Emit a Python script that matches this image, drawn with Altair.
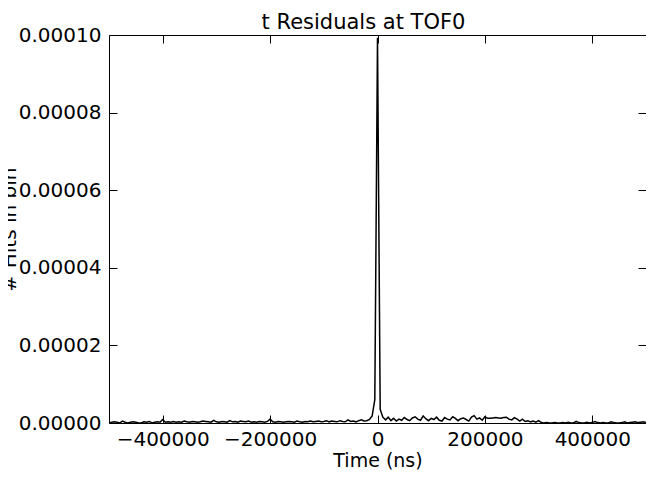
import altair as alt
import pandas as pd

# Histogram binning (bin centres every 5000 ns starting at -500000 ns)
bin_width = 5000
first_center = -500000

# Normalised hits per bin, in units of 1e-6
counts_e6 = [
    # -500000 .. -455000
    0, 0.2, 0.3, 0.2, 0, 0.5, 0.2, 0, 0.2, 0.3,
    # -450000 .. -405000
    0.2, 0, 0, 0.3, 0.2, 0.4, 0, 0.2, 0.3, 0.2,
    # -400000 .. -355000
    0.9, 0.2, 0.3, 0.2, 0.4, 0.2, 0.3, 0.2, 0.5, 0.3,
    # -350000 .. -305000
    0.2, 0.4, 0.3, 0.2, 0.3, 0.5, 0.4, 0.3, 0.2, 0.7,
    # -300000 .. -255000
    0.3, 0.2, 0.4, 0.3, 0.2, 0.6, 0.3, 0.4, 0.2, 0.5,
    # -250000 .. -205000
    0.4, 0.3, 0.5, 0.2, 0.3, 0.2, 0.4, 0.3, 0.2, 0.4,
    # -200000 .. -155000
    1.0, 0.3, 0.2, 0.4, 0.3, 0.2, 0.3, 0.4, 0.3, 0.2,
    # -150000 .. -105000
    0.5, 0.3, 0.2, 0.4, 0.3, 0.5, 0.3, 0.4, 0.5, 0.3,
    # -100000 .. -55000
    0.4, 0.6, 0.3, 0.5, 0.4, 0.3, 0.6, 0.4, 0.3, 0.8,
    # -50000 .. -25000
    0.4, 0.5, 0.3, 0.6, 0.8, 0.5,
    # -20000 .. -5000
    0.6, 0.9, 1.8, 6.0,
    # 0
    99.3,
    # 5000, 10000
    3.5, 1.5,
    # 15000 .. 60000
    0.8, 1.5, 0.6, 1.2, 0.5, 1.0, 0.7, 1.4, 0.9, 0.6,
    # 65000 .. 110000
    1.3, 1.6, 1.0, 0.7, 1.8, 1.1, 0.6, 1.2, 0.9, 1.5,
    # 115000 .. 160000
    0.7, 0.5, 1.4, 1.0, 0.8, 1.6, 1.2, 0.6, 1.1, 1.3,
    # 165000 .. 210000
    0.9, 0.5, 1.5, 1.9, 1.0, 1.3, 0.7, 1.6, 1.2, 1.2,
    # 215000 .. 260000
    1.3, 1.4, 1.3, 1.2, 1.4, 1.5, 1.0, 0.8, 1.4, 1.0,
    # 265000 .. 290000
    0.5, 1.0, 0.4, 0.6, 0.3, 0.5,
    # 295000 .. 340000
    0.2, 0.6, 0.1, 0, 0.1, 0, 0, 0.1, 0, 0,
    # 345000 .. 390000
    0.1, 0, 0.2, 0, 0, 0.4, 0.1, 0, 0, 0.2,
    # 395000 .. 440000
    0, 0.1, 0.4, 0.1, 0, 0.1, 0, 0, 0.3, 0.1,
    # 445000 .. 490000
    0, 0, 0.1, 0.3, 0, 0.1, 0.2, 0.3, 0.1, 0.2,
    # 495000, 500000
    0.3, 0.1,
]

x_ticks = [-400000, -200000, 0, 200000, 400000]
y_ticks = [0.0, 0.00002, 0.00004, 0.00006, 0.00008, 0.0001]

df = pd.DataFrame({
    "t": [first_center + i * bin_width for i in range(len(counts_e6))],
    "h": [c * 1e-6 for c in counts_e6],
})

FONT = "DejaVu Sans"
PLOT_W = 537
PLOT_H = 388

xscale = alt.Scale(domain=[-500000, 500000], nice=False, zero=False)
yscale = alt.Scale(domain=[0, 0.0001], nice=False, zero=False)

common = dict(grid=False, domain=False, tickColor="black", tickSize=8,
              tickWidth=1, offset=-8, labelFont=FONT, labelFontSize=20,
              labelColor="black")

base = alt.Chart(df)

line = base.mark_line(color="black", strokeWidth=1.5).encode(
    x=alt.X("t:Q", scale=xscale,
            axis=alt.Axis(orient="bottom", values=x_ticks, format="d",
                          title="Time (ns)", titleFont=FONT, titleFontSize=19,
                          titleFontWeight="normal", titleColor="black",
                          titlePadding=2, labelPadding=6, **common)),
    y=alt.Y("h:Q", scale=yscale,
            axis=alt.Axis(orient="left", values=y_ticks, format=".5f",
                          title="# Hits in bin", titleFont=FONT,
                          titleFontSize=20, titleFontWeight="normal",
                          titleColor="black", titleX=-102, titleY=PLOT_H / 2,
                          titleAngle=270, titleAlign="center",
                          titleBaseline="alphabetic", labelPadding=8,
                          **common)),
)

frame = base.mark_line(opacity=0).encode(
    x=alt.X("t:Q", scale=xscale,
            axis=alt.Axis(orient="top", values=x_ticks, labels=False,
                          title=None, **common)),
    y=alt.Y("h:Q", scale=yscale,
            axis=alt.Axis(orient="right", values=y_ticks, labels=False,
                          title=None, **common)),
)

chart = (
    alt.layer(line, frame)
    .resolve_axis(x="independent", y="independent")
    .properties(
        width=PLOT_W,
        height=PLOT_H,
        title=alt.TitleParams("t Residuals at TOF0", font=FONT, fontSize=21,
                              fontWeight="normal", color="black", dx=-14,
                              dy=14, offset=6),
        autosize=alt.AutoSizeParams(type="none"),
        padding={"left": 101, "top": 27, "right": 0, "bottom": 47},
    )
    .configure_view(stroke="black", strokeWidth=1)
)

chart.save("out.html", embed_options={"renderer": "svg", "actions": False})
